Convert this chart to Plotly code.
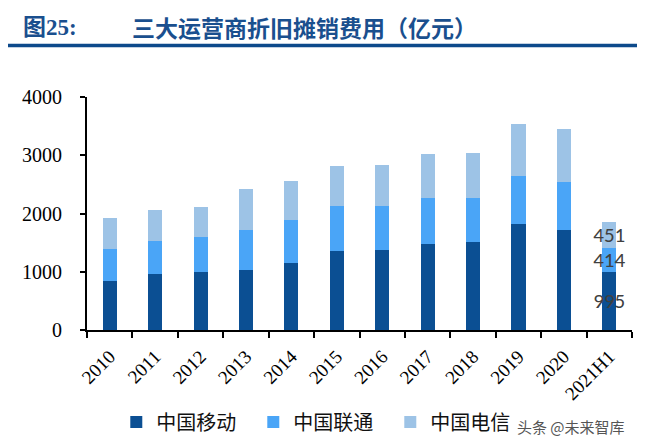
import plotly.graph_objects as go

categories = ["2010", "2011", "2012", "2013", "2014", "2015", "2016",
              "2017", "2018", "2019", "2020", "2021H1"]
china_mobile = [846, 955, 990, 1034, 1154, 1350, 1367, 1480, 1509, 1818, 1715, 995]
china_unicom = [543, 577, 610, 681, 738, 782, 765, 784, 761, 823, 829, 414]
china_telecom = [537, 526, 510, 703, 669, 676, 693, 755, 766, 898, 909, 451]
series_names = ["中国移动", "中国联通", "中国电信"]
series_colors = ["#0B4F93", "#4AA5F7", "#9DC3E6"]
tick_vals_y = [0, 1000, 2000, 3000, 4000]

label_font = dict(family="Carlito, Liberation Sans, Noto Sans", size=21, color="#404040")


def last_label(vals):
    return [""] * (len(vals) - 1) + [str(vals[-1])]


fig = go.Figure()
for name, vals, col in zip(series_names, [china_mobile, china_unicom, china_telecom], series_colors):
    fig.add_trace(go.Bar(
        x=categories, y=vals, name=name, marker=dict(color=col, line=dict(width=0)),
        width=0.31, text=last_label(vals), textposition="inside",
        insidetextanchor="middle", constraintext="none",
        insidetextfont=label_font, textangle=0, cliponaxis=False,
    ))

fig.update_layout(
    barmode="stack",
    width=637, height=440,
    margin=dict(l=79, r=13, t=89, b=118, autoexpand=False),
    paper_bgcolor="white", plot_bgcolor="white",
    showlegend=True,
    legend=dict(orientation="h", xref="container", yref="container",
                x=0.17, y=0.059, xanchor="left", yanchor="middle",
                entrywidth=92, entrywidthmode="pixels",
                font=dict(family="Noto Sans CJK SC", size=20, color="#111111"),
                bgcolor="rgba(0,0,0,0)", traceorder="normal"),
    xaxis=dict(type="category", showline=True, linecolor="black", linewidth=2,
               ticks="outside", ticklen=6, tickwidth=2, tickcolor="black",
               tickson="boundaries", tickangle=-45, showgrid=False, automargin=False,
               ticklabelstandoff=6,
               tickfont=dict(family="Liberation Serif", size=19, color="black")),
    yaxis=dict(range=[0, 4000], tickvals=tick_vals_y, showline=True, linecolor="black",
               linewidth=2, ticks="outside", ticklen=5, tickwidth=2, tickcolor="black",
               showgrid=False, zeroline=False, ticklabelstandoff=14, automargin=False,
               tickfont=dict(family="Liberation Serif", size=20, color="black")),
    annotations=[
        dict(text="<b>图25:</b>", xref="paper", yref="paper", x=-0.121, y=1.300,
             xanchor="left", yanchor="middle", showarrow=False,
             font=dict(family="Liberation Serif, Noto Sans CJK SC", size=23, color="#1A4F8E")),
        dict(text="<b>三大运营商折旧摊销费用（亿元）</b>", xref="paper", yref="paper",
             x=0.0789, y=1.300, xanchor="left", yanchor="middle", showarrow=False,
             font=dict(family="Noto Sans CJK SC", size=23, color="#1A4F8E")),
        dict(text="头条 @未来智库", xref="paper", yref="paper", x=0.785, y=-0.416,
             xanchor="left", yanchor="middle", showarrow=False,
             font=dict(family="Noto Sans CJK SC", size=15, color="#555555")),
    ],
    shapes=[
        dict(type="line", xref="paper", yref="paper", x0=-0.154, x1=1.018,
             y0=1.221, y1=1.221, line=dict(color="#0D4A8B", width=3.5)),
    ],
)

fig.write_html("out.html")
